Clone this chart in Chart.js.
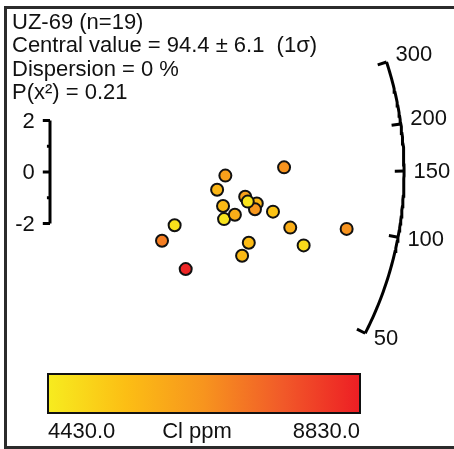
<!DOCTYPE html>
<html>
<head>
<meta charset="utf-8">
<script src="https://cdn.jsdelivr.net/npm/chart.js@4.4.0/dist/chart.umd.min.js"></script>
<style>
  html, body { margin: 0; padding: 0; background: #fff; }
  #wrap { width: 454px; height: 449px; }
</style>
</head>
<body>
<div id="wrap"><canvas id="radial" width="454" height="449"></canvas></div>
<script>
// header text
const headerLines = ["UZ-69 (n=19)", "Central value = 94.4 \u00b1 6.1  (1\u03c3)", "Dispersion = 0 %", "P(x\u00b2) = 0.21"];

// radial plot: x = precision, y = standardised estimate, colour = Cl
const precision   = [9.09, 6.81, 6.49, 6.72, 6.76, 7.18, 7.58, 8.03, 7.96, 7.68, 8.66, 9.33, 11.52, 4.84, 4.35, 7.72, 7.46, 9.85, 5.27];
const stdEstimate = [0.18, -0.14, -0.69, -1.32, -1.83, -1.66, -0.96, -1.22, -1.45, -1.15, -1.54, -2.16, -2.21, -2.07, -2.67, -2.75, -3.25, -2.85, -3.77];
const clPpm       = [6650, 6300, 5750, 5650, 4650, 5950, 6300, 5750, 6550, 4650, 5400, 5950, 6650, 4700, 7050, 5600, 5650, 4850, 8700];

const arcTicks = [50, 100, 150, 200, 300];
const leftTicks = [-2, -1, 0, 1, 2];
const leftLabels = [-2, 0, 2];
const clRange = [4430.0, 8830.0];
const clTitle = "Cl ppm";

// geometry
const PX = 25.75;          // pixels per unit
const ORIGIN = [50, 172];  // pixel position of (0,0)
const R = 13.75;           // arc radius in units
const K = 0.468, T0 = 149.2;
const FONT = '22px "Liberation Sans", Arial, sans-serif';

const ramp = [[0, [247, 236, 31]], [0.25, [252, 190, 20]], [0.5, [247, 148, 30]], [0.75, [241, 90, 41]], [1, [237, 30, 36]]];
function clColor(v) {
  const f = Math.min(1, Math.max(0, (v - clRange[0]) / (clRange[1] - clRange[0])));
  for (let i = 1; i < ramp.length; i++) {
    if (f <= ramp[i][0]) {
      const a = ramp[i - 1], b = ramp[i];
      const u = (f - a[0]) / (b[0] - a[0]);
      const c = a[1].map((x, j) => Math.round(x + (b[1][j] - x) * u));
      return `rgb(${c[0]},${c[1]},${c[2]})`;
    }
  }
  return 'rgb(237,30,36)';
}

const angle = t => Math.atan(K * Math.log(t / T0));

// arc line
const arcPts = [];
const a0 = angle(arcTicks[0]), a1 = angle(arcTicks[arcTicks.length - 1]);
for (let i = 0; i <= 80; i++) {
  const a = a0 + (a1 - a0) * i / 80;
  arcPts.push({ x: R * Math.cos(a), y: R * Math.sin(a) });
}

const lineDs = (data) => ({
  type: 'scatter', data, showLine: true, borderColor: '#000', borderWidth: 3,
  pointRadius: 0, order: 2, borderCapStyle: 'butt', borderJoinStyle: 'miter'
});

const datasets = [{
  type: 'scatter',
  data: precision.map((x, i) => ({ x, y: stdEstimate[i] })),
  backgroundColor: clPpm.map(clColor),
  borderColor: '#111',
  borderWidth: 2,
  pointRadius: 6,
  order: 0
}, lineDs(arcPts)];

arcTicks.forEach(t => {
  const a = angle(t);
  datasets.push(lineDs([{ x: R * Math.cos(a), y: R * Math.sin(a) }, { x: (R - 0.36) * Math.cos(a), y: (R - 0.36) * Math.sin(a) }]));
});

datasets.push(lineDs([{ x: 0, y: -2 }, { x: 0, y: 2 }]));
leftTicks.forEach(v => {
  const len = (v % 2 === 0) ? 0.28 : 0.12;
  datasets.push(lineDs([{ x: 0, y: v }, { x: -len, y: v }]));
});

const decor = {
  id: 'decor',
  afterDraw(chart) {
    const ctx = chart.ctx;
    const xs = chart.scales.x, ys = chart.scales.y;
    ctx.save();
    // frame
    ctx.fillStyle = '#2b2b2b';
    ctx.fillRect(4, 6, 3, 443);
    ctx.fillRect(4, 6, 450, 3);
    ctx.fillRect(4, 446, 450, 3);

    ctx.fillStyle = '#111';
    ctx.font = FONT;
    ctx.textBaseline = 'alphabetic';
    ctx.textAlign = 'left';
    headerLines.forEach((s, i) => ctx.fillText(s, 12, 29 + i * 23.3));

    // left axis labels
    ctx.textAlign = 'right';
    ctx.textBaseline = 'middle';
    leftLabels.forEach(v => ctx.fillText(String(v), xs.getPixelForValue(-0.28) - 8, ys.getPixelForValue(v) + 1));

    // arc labels
    ctx.textAlign = 'left';
    arcTicks.forEach(t => {
      const a = angle(t);
      const px = xs.getPixelForValue((R + 0.37) * Math.cos(a));
      const py = ys.getPixelForValue((R + 0.37) * Math.sin(a));
      ctx.fillText(String(t), px, py + (a > 0.05 ? -4 : 1));
    });

    // colour bar
    const bx = 48, by = 374, bw = 312, bh = 39;
    const g = ctx.createLinearGradient(bx, 0, bx + bw, 0);
    ramp.forEach(s => g.addColorStop(s[0], `rgb(${s[1].join(',')})`));
    ctx.fillStyle = g;
    ctx.fillRect(bx, by, bw, bh);
    ctx.strokeStyle = '#111';
    ctx.lineWidth = 2;
    ctx.strokeRect(bx, by, bw, bh);
    ctx.fillStyle = '#111';
    ctx.textBaseline = 'middle';
    ctx.textAlign = 'left';
    ctx.fillText(clRange[0].toFixed(1), bx, 432);
    ctx.textAlign = 'center';
    ctx.fillText(clTitle, 197, 432);
    ctx.textAlign = 'right';
    ctx.fillText(clRange[1].toFixed(1), bx + bw, 432);
    ctx.restore();
  }
};

new Chart(document.getElementById('radial'), {
  type: 'scatter',
  data: { datasets },
  options: {
    responsive: false,
    animation: false,
    layout: { padding: 0, autoPadding: false },
    plugins: { legend: { display: false }, tooltip: { enabled: false } },
    scales: {
      x: { display: false, min: -ORIGIN[0] / PX, max: (454 - ORIGIN[0]) / PX },
      y: { display: false, min: (ORIGIN[1] - 449) / PX, max: ORIGIN[1] / PX }
    }
  },
  plugins: [decor]
});
</script>
</body>
</html>
